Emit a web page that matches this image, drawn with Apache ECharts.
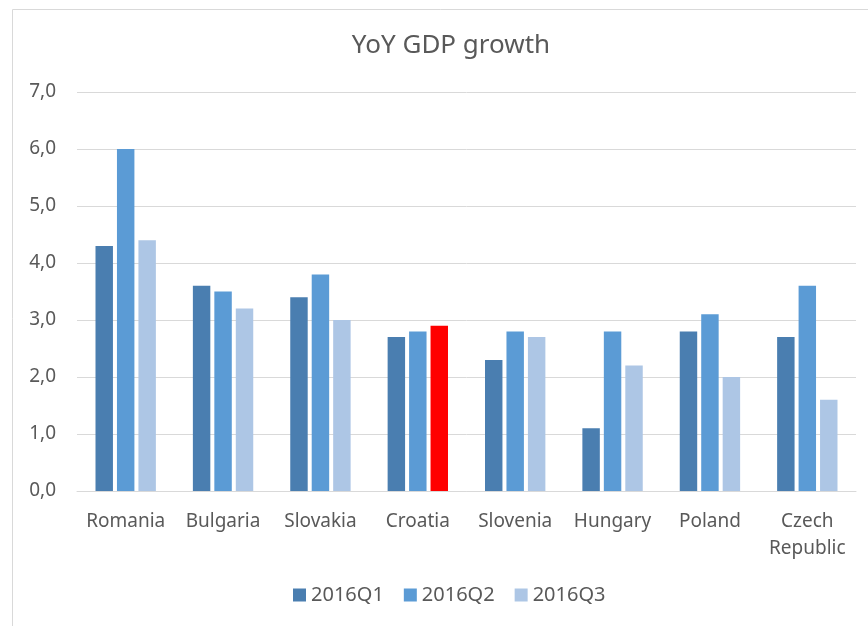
<!DOCTYPE html>
<html><head><meta charset="utf-8">
<script src="https://cdn.jsdelivr.net/npm/echarts@6/dist/echarts.min.js"></script>
<style>html,body{margin:0;padding:0;background:#fff}#c{width:868px;height:626px}</style>
</head><body><div id="c"></div>
<script>
const categories = ["Romania","Bulgaria","Slovakia","Croatia","Slovenia","Hungary","Poland","Czech\nRepublic"];
const seriesNames = ["2016Q1","2016Q2","2016Q3"];
const q1 = [4.3,3.6,3.4,2.7,2.3,1.1,2.8,2.7];
const q2 = [6.0,3.5,3.8,2.8,2.8,2.8,3.1,3.6];
const q3 = [4.4,3.2,3.0,2.9,2.7,2.2,2.0,1.6];
const highlightIndex = 3; // Croatia Q3 in red
const colors = ["#4a7eb0","#5b9bd5","#adc6e5"];
const FONT = "'Noto Sans', 'Open Sans', sans-serif";
const chart = echarts.init(document.getElementById('c'));
const q3Data = q3.map((v,i)=> i===highlightIndex ? {value:v,itemStyle:{color:'#ff0000'}} : v);
chart.setOption({
  animation:false,
  textStyle:{fontFamily:FONT},
  graphic:[{type:'rect',shape:{x:12.5,y:9.5,width:900,height:700},style:{fill:'none',stroke:'#d9d9d9',lineWidth:1},silent:true}],
  title:{text:'YoY GDP growth',left:446,textAlign:'center',top:28,textStyle:{fontFamily:FONT,fontSize:26,fontWeight:'normal',color:'#595959'}},
  legend:{bottom:16,left:288,itemWidth:13,itemHeight:13,itemGap:20,itemTextGap:6,icon:'rect',
    textStyle:{fontFamily:FONT,fontSize:20,color:'#595959'},data:seriesNames},
  grid:{left:77,right:12,top:92,bottom:135,containLabel:false},
  xAxis:{type:'category',data:categories,
    axisLine:{lineStyle:{color:'#d9d9d9',width:1}},axisTick:{show:false},
    axisLabel:{fontFamily:FONT,fontSize:19,color:'#595959',margin:17,lineHeight:27,interval:0}},
  yAxis:{type:'value',min:0,max:7,interval:1,
    axisLine:{show:false},axisTick:{show:false},
    splitLine:{lineStyle:{color:'#d9d9d9',width:1}},
    axisLabel:{fontFamily:FONT,fontSize:19,color:'#595959',margin:21,formatter:v=>v.toFixed(1).replace('.',',')}},
  series:[
    {name:seriesNames[0],type:'bar',data:q1,itemStyle:{color:colors[0]},barGap:'23%',barCategoryGap:'38%'},
    {name:seriesNames[1],type:'bar',data:q2,itemStyle:{color:colors[1]}},
    {name:seriesNames[2],type:'bar',data:q3Data,itemStyle:{color:colors[2]}}
  ]
});
</script></body></html>
